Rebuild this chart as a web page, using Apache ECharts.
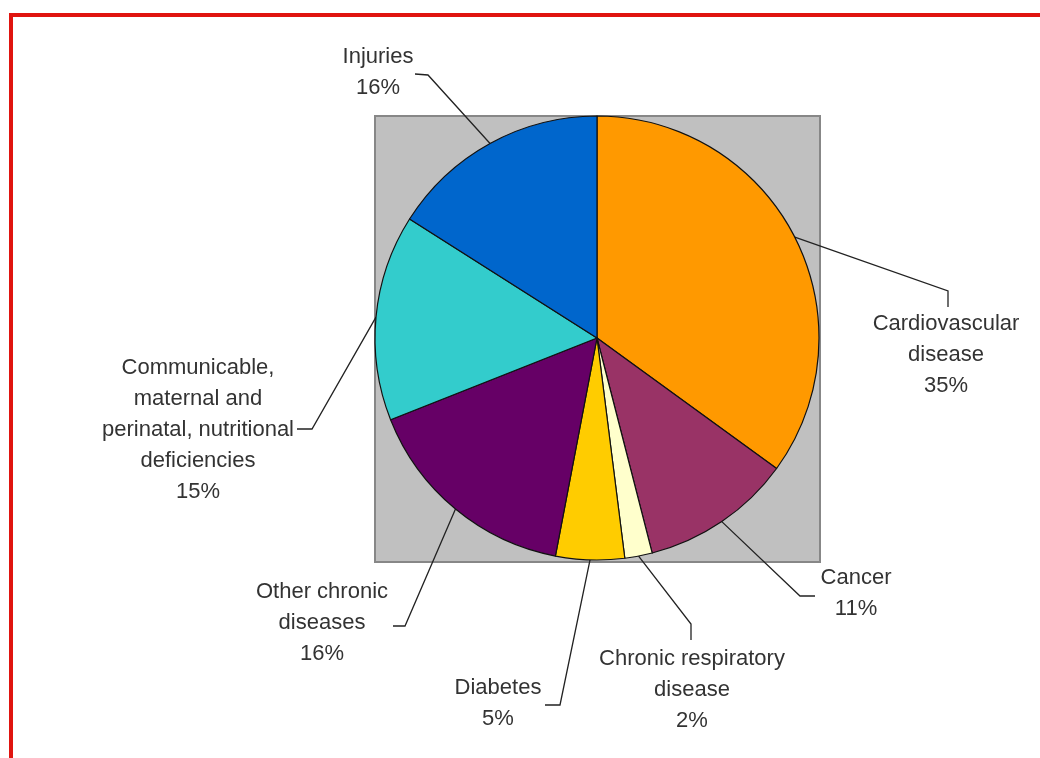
<!DOCTYPE html>
<html style="height: 100%">
<head>
    <meta charset="UTF-8">
    <title>Causes of death</title>
</head>
<body style="height: 100%; margin: 0; background: #fff">
    <div id="container" style="width: 1040px; height: 758px"></div>

    <script src="https://cdn.jsdelivr.net/npm/echarts@6/dist/echarts.min.js"></script>

    <script type="text/javascript">
        // data
        var categories = ['Cardiovascular\ndisease', 'Cancer', 'Chronic respiratory\ndisease', 'Diabetes',
            'Other chronic\ndiseases', 'Communicable,\nmaternal and\nperinatal, nutritional\ndeficiencies', 'Injuries'];
        var shares = [35, 11, 2, 5, 16, 15, 16];
        var colors = ['#FF9900', '#993366', '#FFFFCC', '#FFCC00', '#660066', '#33CCCC', '#0066CC'];

        // where each label sits and how its leader line bends (layout only)
        var labelSpots = [[946, 355], [856, 593], [692, 690], [498, 703], [322, 623], [198, 430], [378, 72]];
        var leaderBends = [
            [[948, 291], [948, 307]],
            [[800, 596], [815, 596]],
            [[691, 624], [691, 640]],
            [[560, 705], [545, 705]],
            [[405, 626], [393, 626]],
            [[312, 429], [297, 429]],
            [[428, 75], [415, 74]]
        ];

        var cx = 597, cy = 338, r = 222;

        var dom = document.getElementById('container');
        var myChart = echarts.init(dom);

        var pieData = [];
        for (var i = 0; i < categories.length; i++) {
            pieData.push({name: categories[i], value: shares[i], itemStyle: {color: colors[i]}});
        }

        // edge point of a slice at its middle angle
        function edgePoint(idx) {
            var total = 0, before = 0;
            for (var k = 0; k < shares.length; k++) {
                total += shares[k];
                if (k < idx) before += shares[k];
            }
            var a = (before + shares[idx] / 2) / total * Math.PI * 2;
            return [cx + r * Math.sin(a), cy - r * Math.cos(a)];
        }

        var option = {
            animation: false,
            backgroundColor: '#fff',
            graphic: [
                {
                    type: 'rect', z: -10,
                    shape: {x: 11, y: 15, width: 1200, height: 900},
                    style: {fill: '#fff', stroke: '#E0140F', lineWidth: 4}
                },
                {
                    type: 'rect', z: -5,
                    shape: {x: 375, y: 116, width: 445, height: 446},
                    style: {fill: '#C0C0C0', stroke: '#878787', lineWidth: 2}
                }
            ],
            series: [{
                type: 'pie',
                center: [cx, cy],
                radius: r,
                startAngle: 90,
                clockwise: true,
                silent: true,
                itemStyle: {borderColor: '#111', borderWidth: 1.2},
                label: {
                    show: true,
                    position: 'outside',
                    fontFamily: 'Liberation Sans, Arial, sans-serif',
                    fontSize: 22,
                    lineHeight: 31,
                    color: '#333',
                    align: 'center',
                    formatter: function (p) {
                        return p.name + '\n' + Math.round(p.percent) + '%';
                    }
                },
                labelLine: {
                    show: true,
                    lineStyle: {color: '#222', width: 1.3}
                },
                labelLayout: function (params) {
                    var idx = params.dataIndex;
                    var start = edgePoint(idx);
                    return {
                        x: labelSpots[idx][0],
                        y: labelSpots[idx][1],
                        align: 'center',
                        verticalAlign: 'middle',
                        labelLinePoints: [start, leaderBends[idx][0], leaderBends[idx][1]]
                    };
                },
                data: pieData
            }]
        };

        myChart.setOption(option);
    </script>
</body>
</html>
